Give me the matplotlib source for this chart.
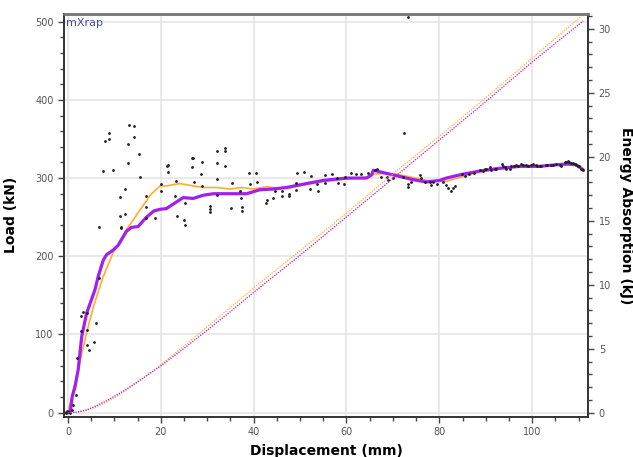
import numpy as np
import matplotlib.pyplot as plt
from matplotlib.ticker import MultipleLocator

# raw load samples (displacement mm, load kN)
scatter_x = [-0.8, -0.5, -0.2, 0.2, 0.5, 0.93, 1.15, 1.7, 2.0, 2.7, 2.8, 3.3, 4.0, 4.15, 4.15, 4.6,
             5.7, 6.0, 6.7, 6.67, 7.6, 7.97, 8.9, 8.8, 9.75, 11.3, 11.2, 11.4, 11.5, 12.2, 12.3,
             12.9, 12.9, 13.2, 14.2, 14.2, 15.4, 15.6, 16.8, 16.7, 16.9, 18.8, 20.0, 20.1, 21.4,
             21.6, 21.5, 23.2, 23.1, 23.5, 25.0, 25.2, 25.3, 26.8, 26.9, 26.8, 27.1, 28.9, 28.7,
             28.8, 30.6, 30.5, 30.5, 32.2, 32.2, 32.1, 32.1, 33.8, 33.8, 33.9, 35.4, 35.2, 37.0,
             37.2, 37.4, 37.5, 39.0, 39.2, 40.6, 40.8, 42.8, 42.6, 44.6, 44.2, 46.0, 46.0, 47.6,
             47.6, 49.2, 49.2, 49.4, 50.8, 52.3, 52.1, 53.9, 53.7, 55.3, 55.3, 56.8, 58.0, 58.1,
             59.5, 59.6, 60.9, 62.0, 63.2, 64.7, 66.1, 66.5, 67.5, 68.8, 68.9, 70.0, 72.2, 72.3,
             73.3, 73.3, 73.3, 74.0, 75.8, 76.1, 76.9, 77.9, 78.3, 78.7, 79.4, 80.8, 81.5, 81.9,
             82.6, 83.0, 83.3, 84.8, 85.6, 86.5, 87.5, 88.7, 89.4, 89.8, 90.1, 90.9, 91.2, 92.0,
             92.3, 93.4, 93.8, 94.2, 94.4, 95.2, 95.5, 96.0, 96.6, 96.9, 97.6, 98.0, 98.7, 99.0,
             99.8, 100.2, 100.9, 101.0, 101.6, 102.0, 103.0, 103.1, 104.1, 104.5, 105.2, 106.0,
             106.2, 107.0, 107.3, 107.7, 108.0, 108.4, 108.8, 109.2, 109.5, 109.9, 110.2, 110.6,
             110.9]
scatter_y = [1, 0, 2, 1, 0, 4, 10, 22, 70, 105, 124, 129, 106, 86, 127, 80,
             90, 115, 172, 237, 309, 348, 358, 350, 310, 276, 252, 238, 236, 286, 254,
             344, 319, 368, 367, 352, 331, 301, 277, 263, 249, 249, 292, 283, 316,
             317, 308, 296, 277, 252, 246, 240, 268, 326, 326, 314, 295, 320, 305,
             290, 264, 260, 257, 335, 319, 299, 278, 339, 335, 315, 294, 262, 284,
             274, 263, 258, 306, 293, 307, 295, 272, 268, 283, 275, 277, 283, 280,
             277, 294, 285, 307, 308, 303, 286, 283, 292, 304, 294, 305, 300, 294,
             293, 302, 307, 305, 305, 306, 310, 311, 301, 302, 298, 300, 302, 358,
             506, 293, 289, 295, 304, 300, 295, 295, 291, 295, 293, 295, 291, 287,
             283, 287, 290, 305, 303, 305, 307, 310, 309, 312, 312, 314, 310, 312,
             312, 318, 316, 314, 312, 312, 315, 315, 317, 316, 318, 317, 317, 315,
             317, 318, 317, 316, 316, 315, 317, 317, 317, 317, 318, 317,
             316, 321, 321, 322, 320, 319, 319, 318, 317, 315, 316, 311,
             310]

# smoothed load (orange)
orange_x = [0, 1.0, 1.5, 4.0, 5.5, 7.6, 9.75, 12.6, 15.5, 17.7, 19.8, 21.2, 24.1, 27.0, 29.1,
            32.0, 34.9, 37.4, 39.9, 42.8, 44.9, 47.3, 51.4, 54.3, 60.0, 64.3, 66.0, 68.0,
            70.8, 75.0, 77.2, 80.1, 81.5, 85.1, 88.7, 92.3, 97.3, 101.6, 105.2, 107.7,
            109.5, 110.9]
orange_y = [0, 25, 38, 102, 136, 174, 205, 234, 259, 278, 290, 290, 293, 290, 288,
            288, 286, 288, 286, 289, 287, 287, 292, 295, 299, 301, 305, 306,
            305, 300, 297, 296, 296, 302, 308, 312, 315, 315, 317, 317,
            316, 310]

# filtered load (purple)
purple_x = [0, 0.5, 0.93, 1.5, 2.2, 2.95, 4.0, 5.8, 6.5, 7.6, 8.3, 9.75, 10.8, 12.6, 13.7,
            15.1, 16.9, 18.5, 19.8, 21.2, 23.0, 24.8, 27.0, 29.1, 31.3, 34.9, 38.5, 41.3,
            44.2, 47.1, 51.4, 55.0, 60.0, 64.3, 65.4, 65.8, 67.2, 70.8, 74.3, 77.2, 80.1,
            81.5, 85.1, 88.7, 92.3, 97.3, 101.6, 105.2, 107.7, 109.5, 110.9]
purple_y = [0, 2, 21, 33, 55, 97, 127, 157, 174, 195, 202, 208, 214, 232, 237,
            238, 250, 258, 260, 261, 268, 275, 274, 278, 280, 280, 280, 285,
            286, 288, 293, 297, 300, 300, 304, 310, 308, 303, 298, 295, 297,
            300, 305, 309, 312, 315, 315, 317, 318, 317, 311]

# energy absorption (kJ)
energy_x = [0, 2, 4, 6, 8, 10, 12, 14, 16, 18, 20, 25, 30, 35, 40, 50, 60, 70, 80, 90, 100, 111]
energy_orange = [0, 0.04, 0.18, 0.44, 0.78, 1.18, 1.63, 2.12, 2.65, 3.2, 3.75, 5.22, 6.72, 8.22,
                 9.75, 12.65, 15.6, 18.65, 21.6, 24.6, 27.7, 31.1]
energy_purple = [0, 0.05, 0.22, 0.52, 0.88, 1.28, 1.71, 2.18, 2.66, 3.16, 3.66, 5.03, 6.45, 7.9,
                 9.4, 12.3, 15.3, 18.3, 21.3, 24.3, 27.4, 30.6]

ORANGE = '#ffad2a'
PURPLE = '#a21ff0'
TICKC = '#555555'

fig = plt.figure(figsize=(6.33, 4.57), dpi=100)
ax = fig.add_axes([0.1011, 0.0882, 0.8283, 0.8812])
ax2 = ax.twinx()

ax.grid(True, color='#e3e3e3', linewidth=1.1, zorder=0)
ax.set_axisbelow(True)

ax.plot(orange_x, orange_y, color=ORANGE, linewidth=1.2, zorder=4)
ax.plot(purple_x, purple_y, color=PURPLE, linewidth=2.3, zorder=5)
# dots sit on top of the curves, like the original
ax.scatter(scatter_x, scatter_y, s=4, color='#1e1e1e', zorder=6, linewidths=0)

ax2.plot(energy_x, energy_orange, color=ORANGE, linewidth=0.9, linestyle=(0, (1, 1)))
ax2.plot(energy_x, energy_purple, color=PURPLE, linewidth=0.9, linestyle=(0, (1, 1)))

ax.set_xlim(-0.86, 112.1)
ax.set_ylim(-5.1, 509.8)
ax2.set_ylim(-0.31, 31.15)

ax.xaxis.set_major_locator(MultipleLocator(20))
ax.xaxis.set_minor_locator(MultipleLocator(5))
ax.yaxis.set_major_locator(MultipleLocator(100))
ax.yaxis.set_minor_locator(MultipleLocator(20))
ax2.yaxis.set_major_locator(MultipleLocator(5))
ax2.yaxis.set_minor_locator(MultipleLocator(1))

for a in (ax, ax2):
    a.tick_params(which='both', colors='#444444', labelcolor=TICKC, labelsize=7, width=1)
    a.tick_params(which='major', length=4)
    a.tick_params(which='minor', length=3)
    for side in ('left', 'bottom', 'right'):
        a.spines[side].set_color('#333333')
        a.spines[side].set_linewidth(1.2)
    a.spines['top'].set_color('#777777')
    a.spines['top'].set_linewidth(1.8)

ax.set_xlabel('Displacement (mm)', fontsize=10, fontweight='bold', labelpad=5)
ax.set_ylabel('Load (kN)', fontsize=10, fontweight='bold', labelpad=12)
ax2.set_ylabel('Energy Absorption (kJ)', fontsize=10, fontweight='bold', rotation=-90, labelpad=16)

ax.text(0.004, 0.99, 'mXrap', transform=ax.transAxes, fontsize=8, color='#4b4b8f',
        va='top', ha='left')

fig.savefig('out.png', dpi=100)
